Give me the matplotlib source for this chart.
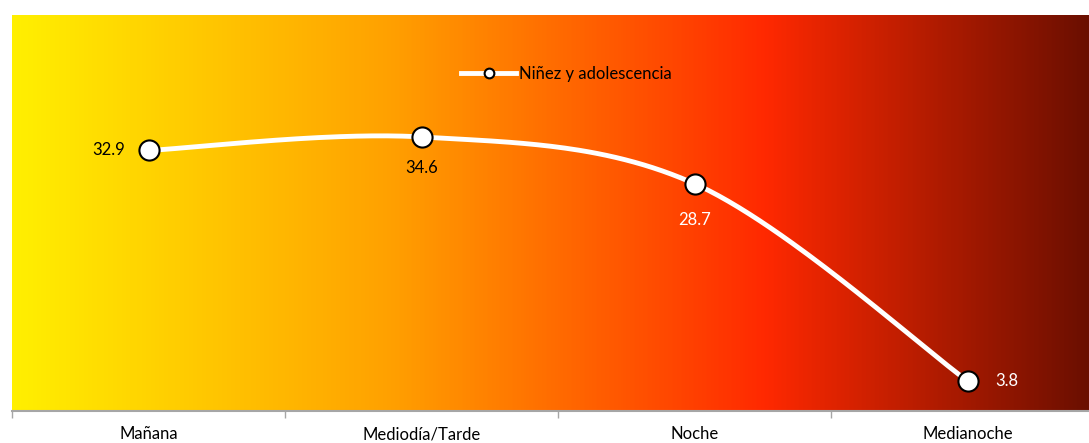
import numpy as np
import matplotlib.pyplot as plt
from matplotlib.colors import LinearSegmentedColormap
from matplotlib.lines import Line2D

categories = ["Mañana", "Mediodía/Tarde", "Noche", "Medianoche"]
values = [32.9, 34.6, 28.7, 3.8]
series_name = "Niñez y adolescencia"
label_colors = ["black", "black", "white", "white"]

plt.rcParams['font.family'] = ['Lato', 'DejaVu Sans']


def smooth(xs, ys, n=60):
    # excel-like smoothed line (bezier through points)
    pts = np.column_stack([xs, ys]).astype(float)
    out = []
    for i in range(len(pts) - 1):
        p0 = pts[i - 1] if i > 0 else pts[i]
        p1, p2 = pts[i], pts[i + 1]
        p3 = pts[i + 2] if i + 2 < len(pts) else pts[i + 1]
        c1 = p1 + (p2 - p0) / 6
        c2 = p2 - (p3 - p1) / 6
        t = np.linspace(0, 1, n)[:, None]
        out.append((1 - t) ** 3 * p1 + 3 * (1 - t) ** 2 * t * c1
                   + 3 * (1 - t) * t ** 2 * c2 + t ** 3 * p2)
    return np.vstack(out)


W, H = 1089, 443
fig = plt.figure(figsize=(W / 100, H / 100), dpi=100)

# background gradient
left, right, top, bottom = 12, 1089, 15, 411
bg = fig.add_axes([left / W, 1 - bottom / H, (right - left) / W, (bottom - top) / H])
cmap = LinearSegmentedColormap.from_list("heat", [
    (0.0, (1.0, 0.94, 0.0)),
    (0.35, (1.0, 0.63, 0.0)),
    (0.70, (1.0, 0.16, 0.0)),
    (1.0, (0.42, 0.06, 0.0)),
])
bg.imshow(np.linspace(0, 1, 512)[None, :], aspect='auto', cmap=cmap,
          extent=[0, 1, 0, 1])
bg.axis('off')

# main axes (extends slightly past the right edge)
ax_right = 1104
ax = fig.add_axes([left / W, 1 - bottom / H, (ax_right - left) / W, (bottom - top) / H])
ax.patch.set_alpha(0)
x = np.arange(1, len(values) + 1)
curve = smooth(x, values)
ax.plot(curve[:, 0], curve[:, 1], color='white', lw=3.5, solid_capstyle='round', zorder=3)
ax.plot(x, values, 'o', ms=14.5, mfc='white', mec='black', mew=1.5, zorder=4)

ax.set_xlim(0.5, len(values) + 0.5)
ax.set_ylim(0, 50)
ax.set_yticks([])
ax.set_xticks(np.arange(0.5, len(values) + 1, 1))
ax.set_xticklabels([])
ax.set_xticks(x, minor=True)
ax.set_xticklabels(categories, minor=True, fontsize=12)
ax.tick_params(axis='x', which='minor', length=0, pad=11)
ax.tick_params(axis='x', which='major', length=5, width=1, color='#a6a6a6', direction='out')
for s in ['top', 'right', 'left']:
    ax.spines[s].set_visible(False)
ax.spines['bottom'].set_color('#a6a6a6')
ax.spines['bottom'].set_linewidth(1.5)

offsets = [(-23, 0, 'right', 'center'), (0, -31, 'center', 'center'),
           (0, -36, 'center', 'center'), (28, 0, 'left', 'center')]
for xi, v, c, (dx, dy, ha, va) in zip(x, values, label_colors, offsets):
    ax.annotate(f"{v:.1f}", (xi, v), xytext=(dx, dy), textcoords='offset pixels',
                ha=ha, va=va, fontsize=12, color=c, zorder=5)

handle = Line2D([], [], color='white', lw=3.5, marker='o', ms=7,
                mfc='white', mec='black', mew=1.5)
fig.legend([handle], [series_name], loc='center left',
           bbox_to_anchor=(446 / W, 1 - 74 / H), frameon=False, fontsize=12,
           handlelength=3.3, handletextpad=0.2)

fig.savefig("out.png", dpi=100)
